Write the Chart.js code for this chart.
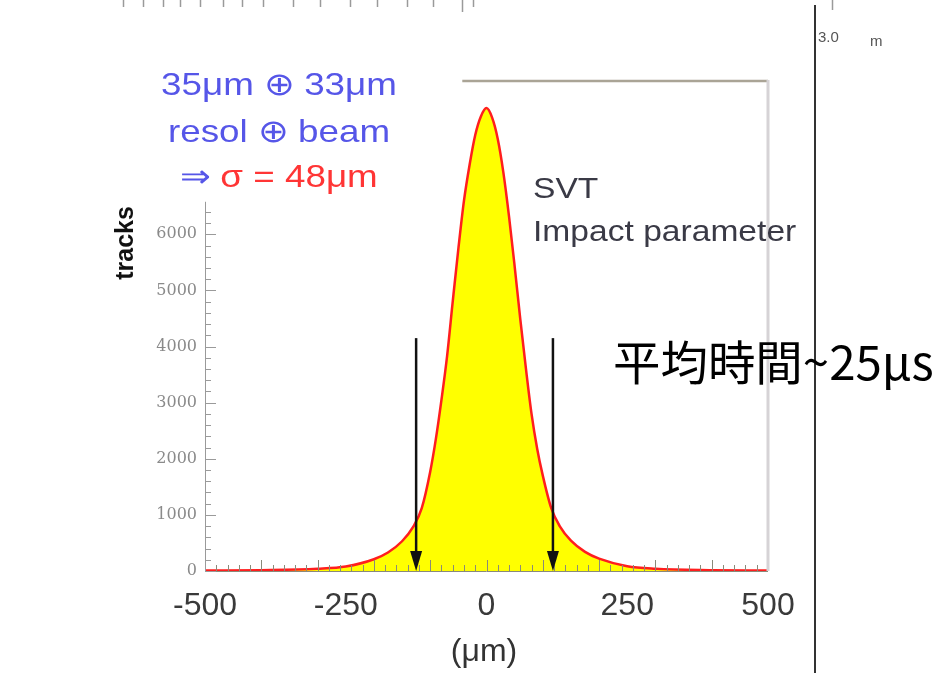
<!DOCTYPE html>
<html>
<head>
<meta charset="utf-8">
<title>SVT impact parameter</title>
<script src="https://cdn.jsdelivr.net/npm/chart.js@4.4.1/dist/chart.umd.min.js"></script>
<style>
  body { margin: 0; background: #fff; }
  #wrap { position: relative; width: 938px; height: 673px; overflow: hidden; }
  #wrap canvas, #wrap svg { position: absolute; left: 0; top: 0; }
  svg text { font-family: 'Liberation Sans', Arial, sans-serif; }
</style>
</head>
<body>
<div id="wrap">
  <canvas id="ipChart" width="938" height="673"></canvas>
  <svg width="938" height="673">
    <text transform="translate(279,95) scale(1.15,1)" text-anchor="middle" font-size="32" fill="#5656e8">35μm ⊕ 33μm</text>
    <text transform="translate(279,141.7) scale(1.15,1)" text-anchor="middle" font-size="32" fill="#5656e8">resol ⊕ beam</text>
    <text transform="translate(279,186.7) scale(1.15,1)" text-anchor="middle" font-size="32"><tspan fill="#5656e8">⇒</tspan><tspan fill="#ff3535"> σ = 48μm</tspan></text>
    <text transform="translate(533,198) scale(1.12,1)" font-size="30" fill="#3a3a46">SVT</text>
    <text transform="translate(533,241) scale(1.12,1)" font-size="30" fill="#3a3a46">Impact parameter</text>
    <text transform="translate(133,243) rotate(-90)" text-anchor="middle" font-size="25" font-weight="bold" fill="#111">tracks</text>
    <text x="484" y="661" text-anchor="middle" font-size="32" fill="#333">(μm)</text>
    <text transform="translate(613,380) scale(1.01,1)" font-size="47" fill="#000" style="font-family:'Noto Sans CJK JP','Noto Sans CJK TC',sans-serif">平均時間~25μs</text>
    <text x="818" y="42" font-size="15" fill="#555">3.0</text>
    <text x="870" y="46" font-size="15" fill="#555">m</text>
  </svg>
</div>
<script>
// impact parameter (um) and track counts per point of the fitted shape
const impactUm = [-500, -400, -300, -250, -200, -175, -150, -130, -115, -100, -90, -80, -70, -60, -50, -40, -30, -20, -10, 0,
                  10, 20, 30, 40, 50, 60, 70, 80, 90, 100, 115, 130, 150, 175, 200, 250, 300, 400, 500];
const tracks = [8, 15, 40, 80, 210, 330, 530, 790, 1120, 1770, 2350, 3050, 3830, 4800, 5740, 6600, 7240, 7770, 8100, 8250,
                8080, 7700, 7100, 6320, 5430, 4490, 3610, 2800, 2180, 1700, 1120, 800, 540, 340, 220, 85, 40, 15, 8];

// cut positions marked by the arrows (um) and the height they start from
const cutUm = [-125, 118];
const cutTop = 4150;

const xTicks = [-500, -250, 0, 250, 500];
const yTicks = [0, 1000, 2000, 3000, 4000, 5000, 6000];

// little ruler marks along the top edge (pixels)
const rulerMarks = [123, 143, 163, 180, 200, 223, 242, 263, 293, 320, 350, 377, 407, 433, 462, 473];

const decor = {
  id: 'decor',
  afterDatasetsDraw(chart) {
    const { ctx, chartArea: a, scales: { x, y } } = chart;
    ctx.save();

    // bottom axis with inward ticks
    ctx.strokeStyle = '#8a8a7a';
    ctx.lineWidth = 1;
    ctx.beginPath();
    ctx.moveTo(a.left, a.bottom + 0.5);
    ctx.lineTo(a.right, a.bottom + 0.5);
    for (let v = -500; v <= 500; v += 20) {
      const px = Math.round(x.getPixelForValue(v)) + 0.5;
      const len = v % 100 === 0 ? 11 : 6;
      ctx.moveTo(px, a.bottom);
      ctx.lineTo(px, a.bottom - len);
    }
    ctx.stroke();

    // left axis, only the lower part is visible
    ctx.strokeStyle = '#9a9a9a';
    ctx.beginPath();
    ctx.moveTo(a.left + 0.5, y.getPixelForValue(6580));
    ctx.lineTo(a.left + 0.5, a.bottom);
    for (let v = 0; v <= 6400; v += 200) {
      const py = Math.round(y.getPixelForValue(v)) + 0.5;
      const len = v % 1000 === 0 ? 11 : 6;
      ctx.moveTo(a.left, py);
      ctx.lineTo(a.left + len, py);
    }
    ctx.stroke();

    // frame: top edge from the peak to the right, right edge
    ctx.strokeStyle = '#aaa496';
    ctx.lineWidth = 2.5;
    ctx.beginPath();
    ctx.moveTo(x.getPixelForValue(-43), a.top + 1);
    ctx.lineTo(a.right, a.top + 1);
    ctx.stroke();
    ctx.strokeStyle = '#d6d3d6';
    ctx.lineWidth = 3;
    ctx.beginPath();
    ctx.moveTo(a.right, a.top);
    ctx.lineTo(a.right, a.bottom);
    ctx.stroke();

    // cut arrows
    ctx.strokeStyle = '#111';
    ctx.fillStyle = '#111';
    ctx.lineWidth = 2.5;
    cutUm.forEach(function (c) {
      const px = x.getPixelForValue(c);
      const top = y.getPixelForValue(cutTop);
      const tip = y.getPixelForValue(0);
      ctx.beginPath();
      ctx.moveTo(px, top);
      ctx.lineTo(px, tip - 10);
      ctx.stroke();
      ctx.beginPath();
      ctx.moveTo(px - 6, tip - 20);
      ctx.lineTo(px + 6, tip - 20);
      ctx.lineTo(px, tip);
      ctx.closePath();
      ctx.fill();
    });
    ctx.restore();
  },
  afterDraw(chart) {
    const ctx = chart.ctx;
    ctx.save();
    // page edge line and ruler on the right
    ctx.strokeStyle = '#333';
    ctx.lineWidth = 2;
    ctx.beginPath();
    ctx.moveTo(815, 5);
    ctx.lineTo(815, 673);
    ctx.stroke();
    ctx.strokeStyle = '#9a9a9a';
    ctx.lineWidth = 1.5;
    ctx.beginPath();
    rulerMarks.forEach(function (m) {
      ctx.moveTo(m + 0.5, 0);
      ctx.lineTo(m + 0.5, m === 462 ? 12 : 7);
    });
    ctx.moveTo(832.5, 0);
    ctx.lineTo(832.5, 10);
    ctx.stroke();
    ctx.restore();
  }
};

new Chart(document.getElementById('ipChart'), {
  type: 'line',
  data: {
    datasets: [{
      data: impactUm.map(function (u, i) { return { x: u, y: tracks[i] }; }),
      borderColor: '#ff1e1e',
      borderWidth: 2.5,
      backgroundColor: '#ffff00',
      fill: 'origin',
      cubicInterpolationMode: 'monotone',
      pointRadius: 0
    }]
  },
  options: {
    responsive: false,
    animation: false,
    layout: { padding: { left: 0, right: 170, top: 80, bottom: 0 } },
    plugins: { legend: { display: false }, tooltip: { enabled: false } },
    scales: {
      x: {
        type: 'linear',
        min: -500,
        max: 500,
        afterBuildTicks: function (s) { s.ticks = xTicks.map(function (v) { return { value: v }; }); },
        afterFit: function (s) { s.height = 102; },
        grid: { display: false, drawTicks: false },
        border: { display: false },
        ticks: {
          maxRotation: 0,
          autoSkip: false,
          padding: 16,
          color: '#3a3a3a',
          callback: function (v) { return String(v); },
          font: { family: "'Liberation Sans', Arial, sans-serif", size: 32 }
        }
      },
      y: {
        min: 0,
        max: 8750,
        afterBuildTicks: function (s) { s.ticks = yTicks.map(function (v) { return { value: v }; }); },
        afterFit: function (s) { s.width = 205; },
        grid: { display: false, drawTicks: false },
        border: { display: false },
        ticks: {
          padding: 8,
          color: '#8a8a8a',
          callback: function (v) { return String(v); },
          font: { family: "'DejaVu Serif', serif", size: 16 }
        }
      }
    }
  },
  plugins: [decor]
});
</script>
</body>
</html>
